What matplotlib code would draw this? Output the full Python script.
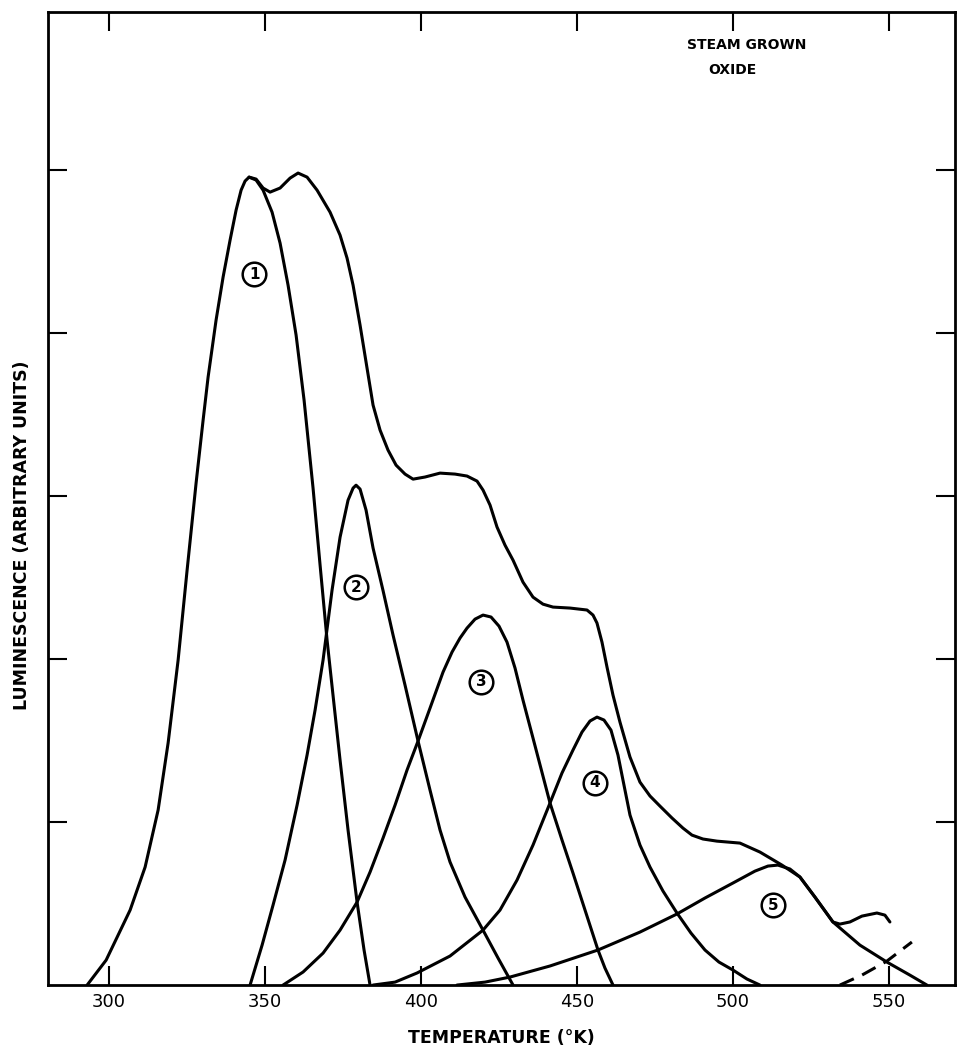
import matplotlib
matplotlib.use("Agg")
import matplotlib.pyplot as plt

# values (temperature in K, luminescence in arbitrary units)
# total glow curve (envelope)
env_t = [292.95, 299.04, 306.73, 311.54, 315.71, 318.91, 322.12, 325.00, 327.88, 330.13,
         331.73, 334.29, 336.54, 338.78, 340.71, 342.31, 343.59, 344.87, 347.12, 349.36,
         351.60, 354.81, 358.01, 360.58, 363.46, 366.67, 370.83, 374.04, 376.28, 378.21,
         380.45, 382.69, 384.62, 386.86, 389.42, 391.99, 394.87, 397.44, 401.28, 406.09,
         410.90, 414.74, 417.95, 419.87, 422.12, 424.36, 426.92, 429.49, 432.69, 435.90,
         439.10, 442.31, 447.76, 453.21, 455.13, 456.41, 458.01, 459.62, 461.54, 463.78,
         466.99, 470.19, 473.40, 476.60, 480.45, 483.97, 486.86, 490.38, 494.87, 502.24,
         508.65, 515.71, 521.47, 526.28, 532.05, 534.29, 537.50, 541.35, 546.15, 548.72,
         550.32]
env_l = [0.0, 0.153, 0.460, 0.724, 1.074, 1.485, 1.994, 2.546, 3.080, 3.466,
         3.730, 4.080, 4.344, 4.571, 4.755, 4.877, 4.933, 4.957, 4.945, 4.890,
         4.865, 4.890, 4.951, 4.982, 4.957, 4.877, 4.742, 4.601, 4.460, 4.294,
         4.049, 3.785, 3.558, 3.405, 3.282, 3.190, 3.135, 3.104, 3.117, 3.141,
         3.135, 3.123, 3.092, 3.037, 2.945, 2.810, 2.699, 2.607, 2.472, 2.380,
         2.337, 2.319, 2.313, 2.301, 2.270, 2.221, 2.104, 1.951, 1.779, 1.613,
         1.399, 1.245, 1.160, 1.098, 1.025, 0.963, 0.920, 0.896, 0.883, 0.871,
         0.816, 0.736, 0.663, 0.540, 0.387, 0.374, 0.387, 0.423, 0.442, 0.429,
         0.387]

# peak 1 (its rising side is the envelope)
p1_t = [344.87, 347.12, 349.36, 352.24, 354.81, 357.37, 359.94, 362.50, 365.38, 367.63,
        369.87, 372.12, 374.04, 376.60, 379.49, 381.73, 383.65]
p1_l = [4.957, 4.939, 4.877, 4.742, 4.552, 4.294, 3.988, 3.589, 3.049, 2.577,
        2.117, 1.718, 1.380, 0.951, 0.509, 0.215, 0.0]

p2_t = [345.19, 349.04, 352.56, 356.41, 360.26, 363.46, 366.03, 368.59, 371.47, 374.04,
        376.60, 378.21, 379.17, 380.45, 382.37, 384.62, 387.82, 391.03, 394.87, 399.04,
        402.88, 406.09, 409.29, 414.10, 419.87, 424.68, 429.49]
p2_l = [0.0, 0.245, 0.491, 0.767, 1.104, 1.411, 1.687, 1.994, 2.423, 2.748,
        2.975, 3.049, 3.067, 3.043, 2.914, 2.681, 2.420, 2.147, 1.840, 1.497,
        1.196, 0.951, 0.755, 0.540, 0.337, 0.166, 0.0]

p3_t = [355.77, 362.18, 368.59, 374.04, 379.49, 383.65, 387.82, 391.67, 395.51, 399.04,
        402.88, 407.05, 409.94, 412.50, 414.74, 417.31, 419.87, 422.44, 425.00, 427.56,
        430.13, 432.69, 435.90, 441.35, 445.19, 448.72, 452.88, 456.73, 458.97, 461.54]
p3_l = [0.0, 0.080, 0.196, 0.337, 0.509, 0.693, 0.902, 1.104, 1.319, 1.497,
        1.699, 1.920, 2.043, 2.129, 2.190, 2.245, 2.270, 2.258, 2.202, 2.104,
        1.945, 1.748, 1.515, 1.117, 0.890, 0.687, 0.442, 0.215, 0.104, 0.0]

p4_t = [384.62, 391.67, 398.72, 409.29, 419.87, 425.32, 430.77, 435.90, 441.35, 445.19,
        448.72, 451.60, 454.17, 456.41, 458.65, 460.90, 463.14, 465.06, 466.99, 470.19,
        473.40, 477.56, 482.05, 486.54, 491.03, 495.51, 500.00, 504.49, 508.65]
p4_l = [0.0, 0.018, 0.074, 0.178, 0.337, 0.460, 0.644, 0.859, 1.117, 1.301,
        1.442, 1.552, 1.620, 1.644, 1.626, 1.564, 1.411, 1.227, 1.043, 0.859,
        0.724, 0.577, 0.442, 0.319, 0.215, 0.141, 0.092, 0.037, 0.0]

p5_t = [411.54, 420.51, 428.53, 441.35, 456.73, 470.19, 482.05, 491.03, 500.00, 507.05,
        511.22, 514.42, 518.27, 521.47, 526.28, 532.05, 540.71, 549.36, 556.73, 562.18]
p5_l = [0.0, 0.018, 0.049, 0.117, 0.215, 0.325, 0.436, 0.534, 0.626, 0.699,
        0.730, 0.736, 0.712, 0.663, 0.540, 0.387, 0.245, 0.141, 0.061, 0.0]

# dashed rise of the next peak
dash_t = [534.29, 541.35, 549.36, 557.37]
dash_l = [0.0, 0.061, 0.147, 0.264]

peak_names = ["1", "2", "3", "4", "5"]
label_t = [346.5, 379.2, 419.2, 455.8, 512.8]
label_l = [4.36, 2.44, 1.86, 1.24, 0.49]

xticks = [300, 350, 400, 450, 500, 550]

plt.rcParams['font.family'] = ['DejaVu Sans']

fig = plt.figure(figsize=(9.58, 10.64), dpi=100)
ax = fig.add_axes([0.0501, 0.0742, 0.9468, 0.9145])

lw = 2.2
kw = dict(color='black', lw=lw, solid_capstyle='round', solid_joinstyle='round')
ax.plot(env_t, env_l, **kw)
for t, l in [(p1_t, p1_l), (p2_t, p2_l), (p3_t, p3_l), (p4_t, p4_l), (p5_t, p5_l)]:
    ax.plot(t, l, **kw)
ax.plot(dash_t, dash_l, color='black', lw=lw, linestyle=(0, (5, 3)))

for name, t, l in zip(peak_names, label_t, label_l):
    ax.plot(t, l, 'o', ms=17, mfc='white', mec='black', mew=1.8, zorder=3)
    ax.text(t, l, name, ha='center', va='center', fontsize=11, fontweight='bold', zorder=4)

ax.text(0.770, 0.966, "STEAM GROWN", transform=ax.transAxes, ha='center', va='center',
        fontsize=10, fontweight='bold')
ax.text(0.754, 0.940, "OXIDE", transform=ax.transAxes, ha='center', va='center',
        fontsize=10, fontweight='bold')

ax.set_xlim(280.4, 571.2)
ax.set_ylim(0, 5.97)
ax.set_xticks(xticks)
ax.set_yticks([1, 2, 3, 4, 5])
ax.set_yticklabels([])
ax.tick_params(direction='in', length=14, width=1.5, top=True, right=True,
               labelsize=13, pad=6)
for s in ax.spines.values():
    s.set_linewidth(2)

ax.set_xlabel("TEMPERATURE (°K)", fontsize=12.5, fontweight='bold', labelpad=13)
ax.set_ylabel("LUMINESCENCE (ARBITRARY UNITS)", fontsize=12.5, fontweight='bold')
ax.yaxis.set_label_coords(-0.019, 0.462)

fig.savefig("out.png", dpi=100)
